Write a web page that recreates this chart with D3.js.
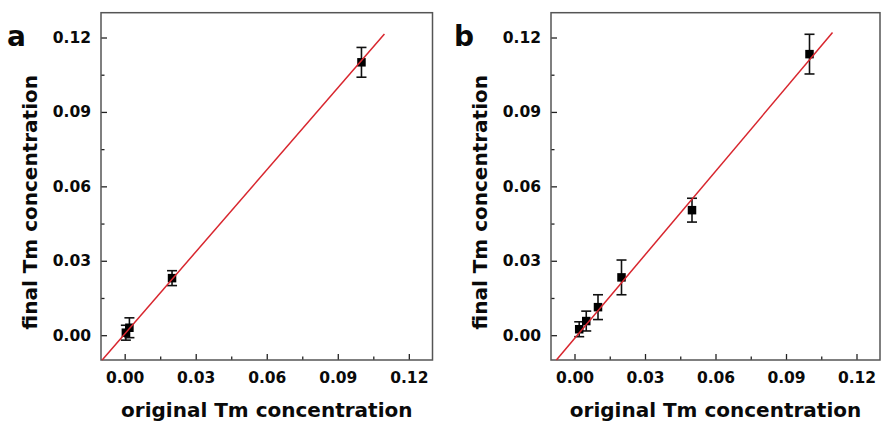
<!DOCTYPE html>
<html>
<head>
<meta charset="utf-8">
<script src="https://cdn.jsdelivr.net/npm/d3@7"></script>
<style>
  html, body { margin: 0; padding: 0; background: #fff; }
  svg { display: block; }
  text { font-family: "DejaVu Sans", sans-serif; font-weight: bold; fill: #0a0a0a; }
</style>
</head>
<body>
<svg id="chart" width="881" height="429"></svg>
<script>
// ---- data ----
const majorTicks = [0, 0.03, 0.06, 0.09, 0.12];
const minorTicks = [0.015, 0.045, 0.075, 0.105];
const tickLabels = ["0.00", "0.03", "0.06", "0.09", "0.12"];
const axisDomain = [-0.01, 0.13];
const xTitle = "original Tm concentration";
const yTitle = "final Tm concentration";
const panelLetters = ["a", "b"];

// panel a
const aX = [0.0005, 0.002, 0.02, 0.1];
const aY = [0.001, 0.003, 0.023, 0.110];
const aErr = [0.003, 0.004, 0.003, 0.006];
const aFitX = [-0.0095, 0.1097];
const aFitY = [-0.01, 0.1214];

// panel b
const bX = [0.002, 0.005, 0.01, 0.02, 0.05, 0.1];
const bY = [0.0024, 0.0057, 0.0113, 0.0233, 0.0504, 0.1133];
const bErr = [0.003, 0.004, 0.005, 0.007, 0.0048, 0.008];
const bFitX = [-0.0077, 0.1098];
const bFitY = [-0.01, 0.122];

// ---- drawing ----
const svg = d3.select("#chart");
const fmt = d => tickLabels[majorTicks.indexOf(d)];

function drawPanel(p) {
  const x = d3.scaleLinear().domain(axisDomain).range([p.left, p.right]);
  const y = d3.scaleLinear().domain(axisDomain).range([p.bottom, p.top]);
  const g = svg.append("g");

  // minor ticks
  g.append("g").attr("transform", `translate(0,${p.bottom})`)
    .call(d3.axisBottom(x).tickValues(minorTicks).tickSize(-3.5).tickFormat(""))
    .call(s => s.select(".domain").remove())
    .call(s => s.selectAll("line").attr("stroke", "#222").attr("stroke-width", 1.3));
  g.append("g").attr("transform", `translate(${p.left},0)`)
    .call(d3.axisLeft(y).tickValues(minorTicks).tickSize(-3.5).tickFormat(""))
    .call(s => s.select(".domain").remove())
    .call(s => s.selectAll("line").attr("stroke", "#222").attr("stroke-width", 1.3));

  // major ticks
  g.append("g").attr("transform", `translate(0,${p.bottom})`)
    .call(d3.axisBottom(x).tickValues(majorTicks).tickSize(-6).tickPadding(12).tickFormat(fmt))
    .call(s => s.select(".domain").remove())
    .call(s => s.selectAll("line").attr("stroke", "#222").attr("stroke-width", 1.3))
    .call(s => s.selectAll("text").attr("font-size", "15.5px").attr("font-family", null).attr("fill", null));
  g.append("g").attr("transform", `translate(${p.left},0)`)
    .call(d3.axisLeft(y).tickValues(majorTicks).tickSize(-6).tickPadding(10).tickFormat(fmt))
    .call(s => s.select(".domain").remove())
    .call(s => s.selectAll("line").attr("stroke", "#222").attr("stroke-width", 1.3))
    .call(s => s.selectAll("text").attr("font-size", "15.5px").attr("font-family", null).attr("fill", null));

  // frame
  g.append("rect")
    .attr("x", p.left).attr("y", p.top)
    .attr("width", p.right - p.left).attr("height", p.bottom - p.top)
    .attr("fill", "none").attr("stroke", "#555").attr("stroke-width", 1.5);

  const pts = p.xs.map((v, i) => ({ x: v, y: p.ys[i], e: p.errs[i] }));
  const cap = 5;

  // error bars
  const eb = g.append("g").attr("stroke", "#111").attr("stroke-width", 1.6);
  pts.forEach(d => {
    eb.append("line").attr("x1", x(d.x)).attr("x2", x(d.x)).attr("y1", y(d.y - d.e)).attr("y2", y(d.y + d.e));
    eb.append("line").attr("x1", x(d.x) - cap).attr("x2", x(d.x) + cap).attr("y1", y(d.y + d.e)).attr("y2", y(d.y + d.e));
    eb.append("line").attr("x1", x(d.x) - cap).attr("x2", x(d.x) + cap).attr("y1", y(d.y - d.e)).attr("y2", y(d.y - d.e));
  });

  // markers
  const sz = 8.5;
  g.append("g").selectAll("rect").data(pts).join("rect")
    .attr("x", d => x(d.x) - sz / 2).attr("y", d => y(d.y) - sz / 2)
    .attr("width", sz).attr("height", sz).attr("fill", "#000");

  // fit line
  const fit = p.fitX.map((v, i) => [v, p.fitY[i]]);
  g.append("path").datum(fit)
    .attr("d", d3.line().x(d => x(d[0])).y(d => y(d[1])))
    .attr("fill", "none").attr("stroke", "#d8262e").attr("stroke-width", 1.5);

  // titles
  g.append("text")
    .attr("x", (p.left + p.right) / 2).attr("y", 416.5)
    .attr("text-anchor", "middle").attr("font-size", "20px")
    .text(xTitle);
  g.append("text")
    .attr("transform", `translate(${p.left - 64},${(p.top + p.bottom) / 2 + 16}) rotate(-90)`)
    .attr("text-anchor", "middle").attr("font-size", "20px")
    .text(yTitle);

  // panel letter
  g.append("text")
    .attr("x", p.letterX).attr("y", 45.5)
    .attr("font-size", "28px")
    .text(p.letter);
}

drawPanel({ left: 101, right: 432.5, top: 12.7, bottom: 360,
  xs: aX, ys: aY, errs: aErr, fitX: aFitX, fitY: aFitY, letter: panelLetters[0], letterX: 7 });
drawPanel({ left: 551, right: 880, top: 12.7, bottom: 360,
  xs: bX, ys: bY, errs: bErr, fitX: bFitX, fitY: bFitY, letter: panelLetters[1], letterX: 454 });
</script>
</body>
</html>
